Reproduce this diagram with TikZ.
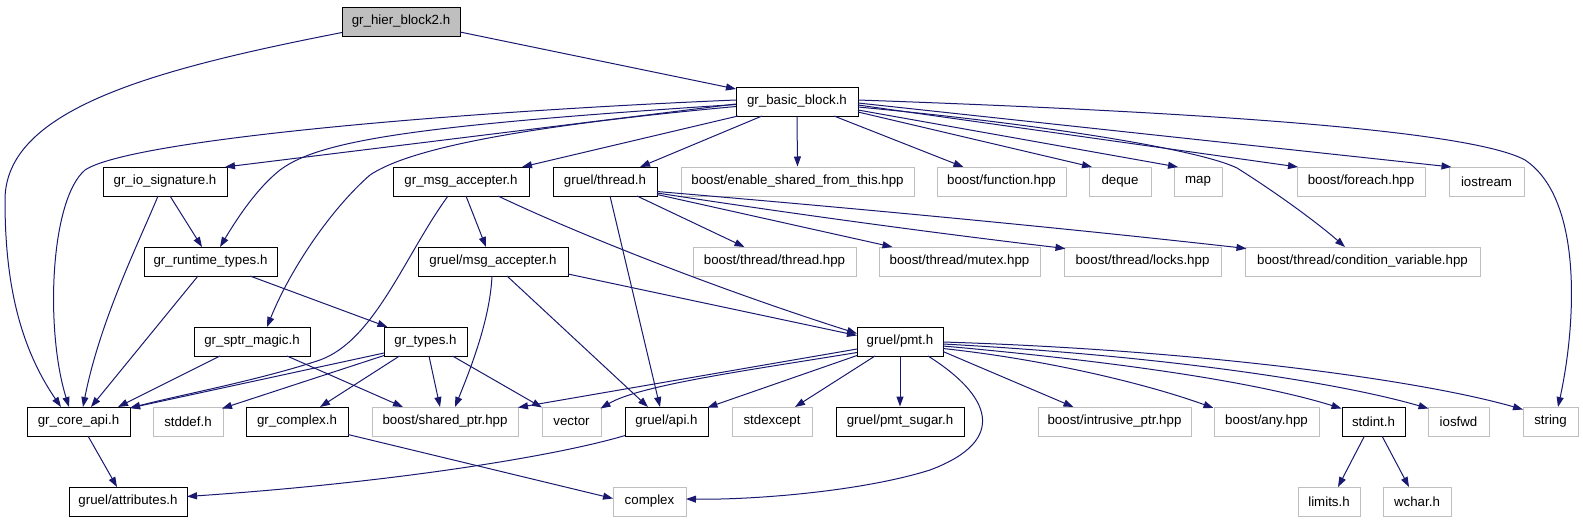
\documentclass[tikz,border=0pt]{standalone}
\usepackage{fontspec}
\setmainfont{Liberation Sans}
\usetikzlibrary{arrows.meta,calc}
\definecolor{edgec}{HTML}{191970}
\definecolor{greyb}{HTML}{BFBFBF}
\tikzset{
  nd/.style={draw=black, line width=1pt, rectangle, inner sep=0pt, minimum height=29pt,
    font=\fontsize{13.3}{16}\selectfont, text=black},
  ext/.style={nd, draw=greyb},
  root/.style={nd, fill=greyb},
  e/.style={draw=edgec, line width=1pt, -{Triangle[length=10pt,width=7pt]}}
}
\begin{document}
\begin{tikzpicture}[x=1pt,y=-1pt]
\useasboundingbox (0,0) rectangle (1583,523);
% row 0
\node[root, minimum width=118pt] (hier) at (401,21.5) {gr\_hier\_block2.h};
% row 1
\node[nd, minimum width=122pt] (basic) at (797,101.5) {gr\_basic\_block.h};
% row 2
\node[nd, minimum width=124pt] (io) at (165,181.5) {gr\_io\_signature.h};
\node[nd, minimum width=136pt] (msgacc) at (461,181.5) {gr\_msg\_accepter.h};
\node[nd, minimum width=104pt] (thread) at (605,181.5) {gruel/thread.h};
\node[ext, minimum width=233pt] (enable) at (797.5,181.5) {boost/enable\_shared\_from\_this.hpp};
\node[ext, minimum width=129pt] (function) at (1001.5,181.5) {boost/function.hpp};
\node[ext, minimum width=62pt] (deque) at (1120,181.5) {deque};
\node[ext, minimum width=48pt] (map) at (1198,181.5) {map};
\node[ext, minimum width=128pt] (foreach) at (1361,181.5) {boost/foreach.hpp};
\node[ext, minimum width=75pt] (iostream) at (1486.5,181.5) {iostream};
% row 3
\node[nd, minimum width=133pt] (runtime) at (210.5,261.5) {gr\_runtime\_types.h};
\node[nd, minimum width=150pt] (gmsgacc) at (493,261.5) {gruel/msg\_accepter.h};
\node[ext, minimum width=163pt] (thrhpp) at (774.5,261.5) {boost/thread/thread.hpp};
\node[ext, minimum width=161pt] (mutex) at (959.5,261.5) {boost/thread/mutex.hpp};
\node[ext, minimum width=157pt] (locks) at (1142.5,261.5) {boost/thread/locks.hpp};
\node[ext, minimum width=235pt] (condvar) at (1362.5,261.5) {boost/thread/condition\_variable.hpp};
% row 4
\node[nd, minimum width=116pt] (sptr) at (252,341.5) {gr\_sptr\_magic.h};
\node[nd, minimum width=83pt] (types) at (425.5,341.5) {gr\_types.h};
\node[nd, minimum width=86pt] (pmt) at (900,341.5) {gruel/pmt.h};
% row 5
\node[nd, minimum width=103pt] (core) at (78.5,421.5) {gr\_core\_api.h};
\node[ext, minimum width=70pt] (stddef) at (188,421.5) {stddef.h};
\node[nd, minimum width=102pt] (complexh) at (297,421.5) {gr\_complex.h};
\node[ext, minimum width=146pt] (shared) at (445,421.5) {boost/shared\_ptr.hpp};
\node[ext, minimum width=59pt] (vector) at (571.5,421.5) {vector};
\node[nd, minimum width=83pt] (api) at (666.5,421.5) {gruel/api.h};
\node[ext, minimum width=80pt] (stdexcept) at (772,421.5) {stdexcept};
\node[nd, minimum width=128pt] (sugar) at (900,421.5) {gruel/pmt\_sugar.h};
\node[ext, minimum width=153pt] (intrusive) at (1114.5,421.5) {boost/intrusive\_ptr.hpp};
\node[ext, minimum width=105pt] (any) at (1266.5,421.5) {boost/any.hpp};
\node[nd, minimum width=63pt] (stdint) at (1373.5,421.5) {stdint.h};
\node[ext, minimum width=61pt] (iosfwd) at (1458.5,421.5) {iosfwd};
\node[ext, minimum width=55pt] (string) at (1550.5,421.5) {string};
% row 6
\node[nd, minimum width=118pt] (attr) at (128,501.5) {gruel/attributes.h};
\node[ext, minimum width=73pt] (complex) at (649.5,501.5) {complex};
\node[ext, minimum width=62pt] (limits) at (1329,501.5) {limits.h};
\node[ext, minimum width=68pt] (wchar) at (1417,501.5) {wchar.h};

% edges from hier
\draw[e] ($(hier)+(-59,11)$) .. controls (150,70) and (5,110) .. (5,200)
  .. controls (5,270) and (15,340) .. ($(core)+(-17.5,-14.5)$);
\draw[e] ($(hier)+(59,10.5)$) -- ($(basic)+(-61,-12.5)$);
% edges from basic (left)
\draw[e] ($(basic)+(-61,-1.5)$) .. controls (450,112) and (130,140) .. (85,170)
  .. controls (50,200) and (45,330) .. ($(core)+(-9.5,-14.5)$);
\draw[e] ($(basic)+(-61,2.5)$) -- ($(io)+(60,-14.5)$);
\draw[e] ($(basic)+(-61,3)$) .. controls (420,125) and (320,140) .. (280,170)
  .. controls (255,190) and (235,222) .. ($(runtime)+(9.5,-14.5)$);
\draw[e] ($(basic)+(-61,5)$) .. controls (480,130) and (400,155) .. (370,175)
  .. controls (330,210) and (290,270) .. ($(sptr)+(15,-14.5)$);
\draw[e] ($(basic)+(-59,14.5)$) -- ($(msgacc)+(61,-14.5)$);
\draw[e] ($(basic)+(-35,14.5)$) -- ($(thread)+(35,-14.5)$);
\draw[e] (basic.south) -- (enable.north);
% edges from basic (right)
\draw[e] ($(basic)+(37,14.5)$) -- ($(function)+(-38,-14.5)$);
\draw[e] ($(basic)+(61,10.5)$) -- ($(deque)+(-28,-14.5)$);
\draw[e] ($(basic)+(61,8.5)$) -- ($(map)+(-20,-14.5)$);
\draw[e] ($(basic)+(61,3.5)$) -- ($(foreach)+(-63,-14.5)$);
\draw[e] ($(basic)+(61,1.5)$) -- ($(iostream)+(-35,-14.5)$);
\draw[e] ($(basic)+(61,5.5)$) .. controls (1050,125) and (1200,150) .. (1237,168)
  .. controls (1280,195) and (1320,225) .. ($(condvar)+(-17.5,-14.5)$);
\draw[e] ($(basic)+(61,-1.5)$) .. controls (1200,112) and (1470,130) .. (1525,160)
  .. controls (1585,200) and (1575,330) .. ($(string)+(7.5,-14.5)$);
% io
\draw[e] ($(io)+(5,14.5)$) -- ($(runtime)+(-8.5,-14.5)$);
\draw[e] ($(io)+(-7,14.5)$) .. controls (140,240) and (100,320) .. ($(core)+(4.5,-14.5)$);
% runtime
\draw[e] ($(runtime)+(-12.5,14.5)$) -- ($(core)+(12.5,-14.5)$);
\draw[e] ($(runtime)+(39.5,14.5)$) -- ($(types)+(-38,-14.5)$);
% msg accepter
\draw[e] ($(msgacc)+(-13,14.5)$) .. controls (405,255) and (375,340) .. (320,360)
  .. controls (260,380) and (180,395) .. ($(core)+(51.5,-13.5)$);
\draw[e] ($(msgacc)+(5,14.5)$) -- ($(gmsgacc)+(-7,-14.5)$);
\draw[e] ($(msgacc)+(37,14.5)$) .. controls (580,235) and (720,290) .. ($(pmt)+(-43,-8)$);
% thread
\draw[e] ($(thread)+(5,14.5)$) -- ($(api)+(-6.5,-14.5)$);
\draw[e] ($(thread)+(32,14.5)$) -- ($(thrhpp)+(-30,-14.5)$);
\draw[e] ($(thread)+(52,13)$) -- ($(mutex)+(-67,-14.5)$);
\draw[e] ($(thread)+(52,11.5)$) .. controls (800,215) and (950,235) .. ($(locks)+(-77,-13)$);
\draw[e] ($(thread)+(52,10)$) .. controls (900,212) and (1100,232) .. ($(condvar)+(-116,-13)$);
% gruel msg accepter
\draw[e] ($(gmsgacc)+(-1,14.5)$) .. controls (490,320) and (470,370) .. ($(shared)+(10,-14.5)$);
\draw[e] ($(gmsgacc)+(14,14.5)$) -- ($(api)+(-18.5,-14.5)$);
\draw[e] ($(gmsgacc)+(75,12.5)$) -- ($(pmt)+(-43,-6)$);
% sptr magic
\draw[e] ($(sptr)+(-32,14.5)$) -- ($(core)+(39.5,-14.5)$);
\draw[e] ($(sptr)+(35,14.5)$) -- ($(shared)+(-42,-14.5)$);
% gr_types
\draw[e] ($(types)+(-41.5,11.5)$) -- ($(core)+(51.5,-13.5)$);
\draw[e] ($(types)+(-41.5,14)$) -- ($(stddef)+(34,-13)$);
\draw[e] ($(types)+(-26,14.5)$) -- ($(complexh)+(23,-14.5)$);
\draw[e] ($(types)+(3.5,14.5)$) -- ($(shared)+(-5,-14.5)$);
\draw[e] ($(types)+(27,14.5)$) -- ($(vector)+(-29.5,-14)$);
% pmt
\draw[e] ($(pmt)+(-43,7.5)$) -- ($(shared)+(73,-14)$);
\draw[e] ($(pmt)+(-43,11)$) .. controls (750,370) and (640,385) .. ($(vector)+(29,-13)$);
\draw[e] ($(pmt)+(-43,14)$) -- ($(api)+(41,-14)$);
\draw[e] ($(pmt)+(-25,14.5)$) -- ($(stdexcept)+(23,-14.5)$);
\draw[e] (pmt.south) -- (sugar.north);
\draw[e] ($(pmt)+(28,14.5)$) .. controls (990,395) and (1010,440) .. (930,470)
  .. controls (860,492) and (750,500) .. ($(complex)+(36.5,-2.5)$);
\draw[e] ($(pmt)+(43,10)$) -- ($(intrusive)+(-41,-14.5)$);
\draw[e] ($(pmt)+(43,7)$) .. controls (1050,360) and (1150,385) .. ($(any)+(-53,-13.5)$);
\draw[e] ($(pmt)+(43,4.5)$) .. controls (1100,360) and (1250,380) .. ($(stdint)+(-32,-13)$);
\draw[e] ($(pmt)+(43,2.5)$) .. controls (1150,355) and (1330,380) .. ($(iosfwd)+(-30,-13)$);
\draw[e] ($(pmt)+(43,0.5)$) .. controls (1200,350) and (1420,380) .. ($(string)+(-27.5,-12)$);
% lower
\draw[e] ($(stdint)+(-9,14.5)$) -- ($(limits)+(9,-14.5)$);
\draw[e] ($(stdint)+(8.5,14.5)$) -- ($(wchar)+(-8,-14.5)$);
\draw[e] ($(core)+(9.5,14.5)$) -- ($(attr)+(-11,-14.5)$);
\draw[e] ($(complexh)+(51,13)$) -- ($(complex)+(-36.5,-3)$);
\draw[e] ($(api)+(-41.5,14)$) .. controls (560,455) and (400,482) .. ($(attr)+(59,-5)$);
\end{tikzpicture}
\end{document}
